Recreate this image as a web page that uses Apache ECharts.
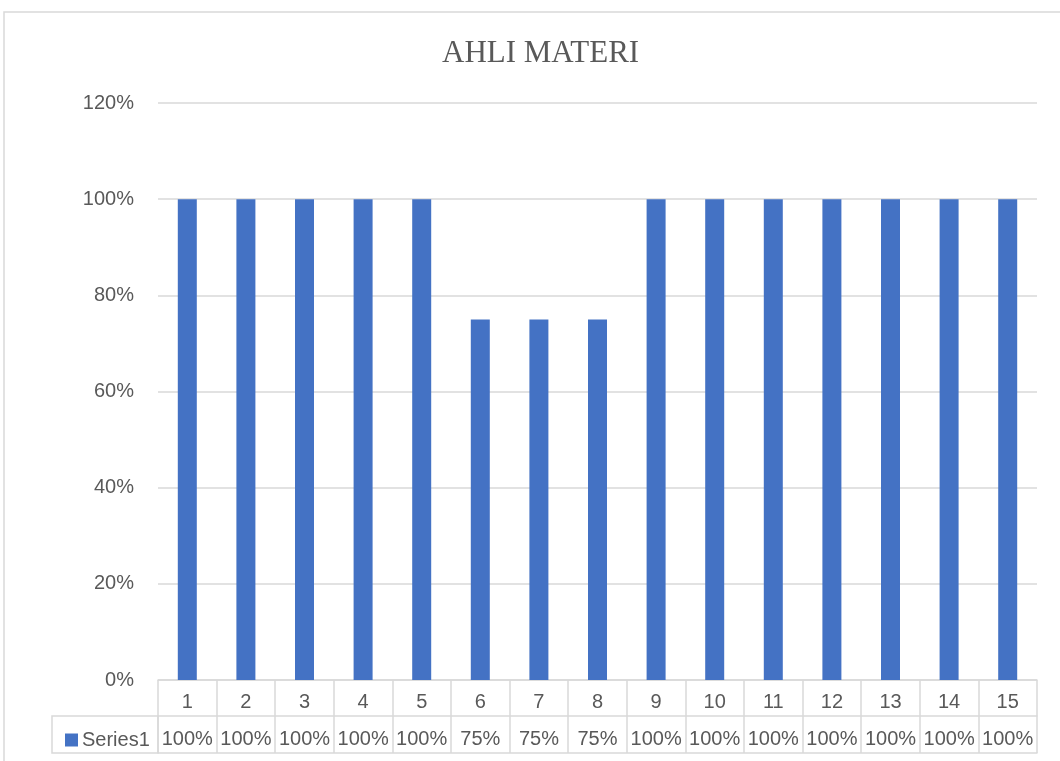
<!DOCTYPE html>
<html>
<head>
<meta charset="utf-8">
<script src="https://cdn.jsdelivr.net/npm/echarts@6/dist/echarts.min.js"></script>
<style>
html,body{margin:0;padding:0;background:#fff;}
#c{width:1060px;height:761px;}
</style>
</head>
<body>
<div id="c"></div>
<script>
const titleText = 'AHLI MATERI';
const seriesName = 'Series1';
const categories = ['1','2','3','4','5','6','7','8','9','10','11','12','13','14','15'];
const values = [1, 1, 1, 1, 1, 0.75, 0.75, 0.75, 1, 1, 1, 1, 1, 1, 1];
const yTicks = [0, 0.2, 0.4, 0.6, 0.8, 1.0, 1.2];

const txt = '#595959';
const line = '#d9d9d9';
const font = 'Liberation Sans';
const pct = v => Math.round(v * 100) + '%';

const chart = echarts.init(document.getElementById('c'), null, {renderer: 'canvas'});
chart.setOption({
  backgroundColor: '#fff',
  animation: false,
  title: {
    text: titleText, left: 437, top: 33,
    textStyle: {fontFamily: 'Liberation Serif', fontSize: 31, fontWeight: 'normal', color: txt}
  },
  legend: {
    data: [seriesName], left: 60, top: 725, itemWidth: 13, itemHeight: 13, itemGap: 4,
    icon: 'rect',
    textStyle: {fontFamily: font, fontSize: 20, color: txt, padding: [0,0,0,-1]}
  },
  grid: {left: 158, right: 23, top: 103, bottom: 81},
  xAxis: [
    {
      type: 'category', data: categories, position: 'bottom',
      axisLine: {show: true, lineStyle: {color: line, width: 1.5}},
      axisTick: {show: true, interval: 0, length: 73, alignWithLabel: false, lineStyle: {color: line, width: 1.5}},
      axisLabel: {interval: 0, margin: 12, fontFamily: font, fontSize: 20, color: txt}
    },
    {
      type: 'category', data: values.map(pct), position: 'bottom', offset: 36,
      axisLine: {show: true, lineStyle: {color: line, width: 1.5}},
      axisTick: {show: false},
      axisLabel: {interval: 0, margin: 13, fontFamily: font, fontSize: 20, color: txt}
    },
    {
      type: 'category', data: categories, position: 'bottom', offset: 73,
      axisLine: {show: true, lineStyle: {color: line, width: 1.5}},
      axisTick: {show: false},
      axisLabel: {show: false}
    }
  ],
  yAxis: {
    type: 'value', min: 0, max: 1.2, interval: 0.2,
    axisLine: {show: false}, axisTick: {show: false},
    splitLine: {lineStyle: {color: line, width: 1.5}},
    axisLabel: {margin: 24, fontFamily: font, fontSize: 20, color: txt, formatter: v => pct(v),
      padding: [4, 0, 0, 0]}
  },
  series: [{
    name: seriesName, type: 'bar', data: values, xAxisIndex: 0,
    barWidth: 19, itemStyle: {color: '#4472C4'}
  }],
  graphic: [
    {type: 'rect', shape: {x: 4, y: 12, width: 1100, height: 800}, silent: true, z: -10,
     style: {fill: 'none', stroke: line, lineWidth: 1.5}},
    {type: 'rect', shape: {x: 52, y: 716, width: 106, height: 37}, silent: true,
     style: {fill: 'none', stroke: line, lineWidth: 1.5}}
  ]
});
</script>
</body>
</html>
